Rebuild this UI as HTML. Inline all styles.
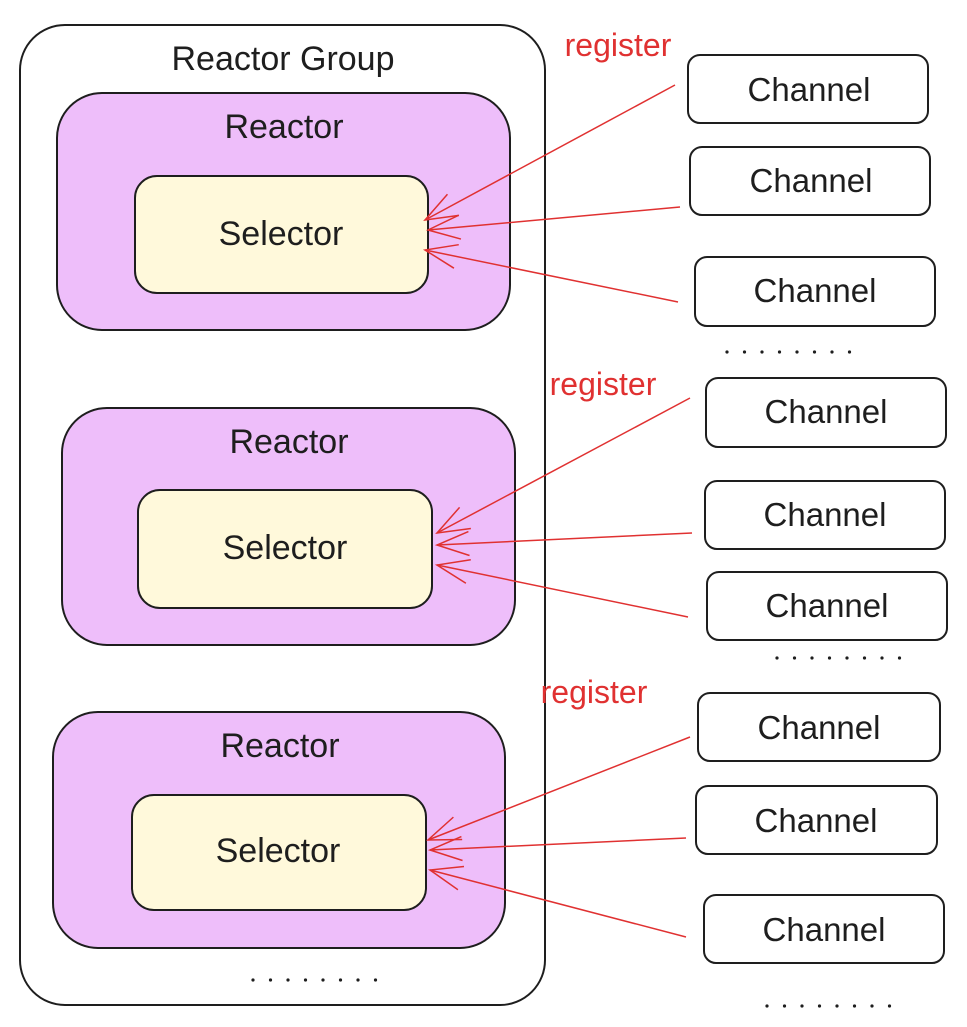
<!DOCTYPE html>
<html><head><meta charset="utf-8"><style>
html,body{margin:0;padding:0;background:#fff;}
svg{display:block;}
text{font-family:"Liberation Sans",sans-serif;fill:#1e1e1e;}
</style></head><body>
<svg width="967" height="1027" viewBox="0 0 967 1027" xmlns="http://www.w3.org/2000/svg">
<defs>
<marker id="ah" markerWidth="40" markerHeight="30" refX="34" refY="15" orient="auto" markerUnits="userSpaceOnUse">
<path d="M2,3 L34,15 L2,27" fill="none" stroke="#e03131" stroke-width="1.5"/>
</marker>
<g id="dots" fill="#1e1e1e">
<circle cx="0" cy="0" r="1.6"/><circle cx="17.5" cy="0" r="1.6"/><circle cx="35" cy="0" r="1.6"/><circle cx="52.5" cy="0" r="1.6"/>
<circle cx="70" cy="0" r="1.6"/><circle cx="87.5" cy="0" r="1.6"/><circle cx="105" cy="0" r="1.6"/><circle cx="122.5" cy="0" r="1.6"/>
</g>
</defs>
<g stroke="#1e1e1e" stroke-width="2">
<rect x="20" y="25" width="525" height="980" rx="45" fill="#fff"/>
<rect x="57" y="93" width="453" height="237" rx="45" fill="#eebefa"/>
<rect x="135" y="176" width="293" height="117" rx="22" fill="#fff9db"/>
<rect x="62" y="408" width="453" height="237" rx="45" fill="#eebefa"/>
<rect x="138" y="490" width="294" height="118" rx="22" fill="#fff9db"/>
<rect x="53" y="712" width="452" height="236" rx="45" fill="#eebefa"/>
<rect x="132" y="795" width="294" height="115" rx="22" fill="#fff9db"/>
<g fill="#fff">
<rect x="688" y="55" width="240" height="68" rx="12"/>
<rect x="690" y="147" width="240" height="68" rx="12"/>
<rect x="695" y="257" width="240" height="69" rx="12"/>
<rect x="706" y="378" width="240" height="69" rx="12"/>
<rect x="705" y="481" width="240" height="68" rx="12"/>
<rect x="707" y="572" width="240" height="68" rx="12"/>
<rect x="698" y="693" width="242" height="68" rx="12"/>
<rect x="696" y="786" width="241" height="68" rx="12"/>
<rect x="704" y="895" width="240" height="68" rx="12"/>
</g>
</g>
<use href="#dots" x="253" y="980"/>
<use href="#dots" x="727" y="352"/>
<use href="#dots" x="777" y="658"/>
<use href="#dots" x="767" y="1006"/>
<g font-size="34" text-anchor="middle">
<text x="283" y="70">Reactor Group</text>
<text x="284" y="138">Reactor</text>
<text x="281" y="245">Selector</text>
<text x="289" y="453">Reactor</text>
<text x="285" y="559">Selector</text>
<text x="280" y="757">Reactor</text>
<text x="278" y="862">Selector</text>
<g font-size="33">
<text x="809" y="101">Channel</text>
<text x="811" y="192">Channel</text>
<text x="815" y="302">Channel</text>
<text x="826" y="423">Channel</text>
<text x="825" y="526">Channel</text>
<text x="827" y="617">Channel</text>
<text x="819" y="739">Channel</text>
<text x="816" y="832">Channel</text>
<text x="824" y="941">Channel</text>
</g>
<g font-size="32">
<text x="618" y="56" style="fill:#e03131">register</text>
<text x="603" y="395" style="fill:#e03131">register</text>
<text x="594" y="703" style="fill:#e03131">register</text>
</g>
</g>
<g stroke="#e03131" stroke-width="1.5" fill="none" marker-end="url(#ah)">
<line x1="675" y1="85" x2="425" y2="220"/>
<line x1="680" y1="207" x2="428" y2="230"/>
<line x1="678" y1="302" x2="425" y2="250"/>
<line x1="690" y1="398" x2="437" y2="533"/>
<line x1="692" y1="533" x2="437" y2="545"/>
<line x1="688" y1="617" x2="437" y2="565"/>
<line x1="690" y1="737" x2="428" y2="840"/>
<line x1="686" y1="838" x2="430" y2="850"/>
<line x1="686" y1="937" x2="430" y2="870"/>
</g>
</svg>
</body></html>
